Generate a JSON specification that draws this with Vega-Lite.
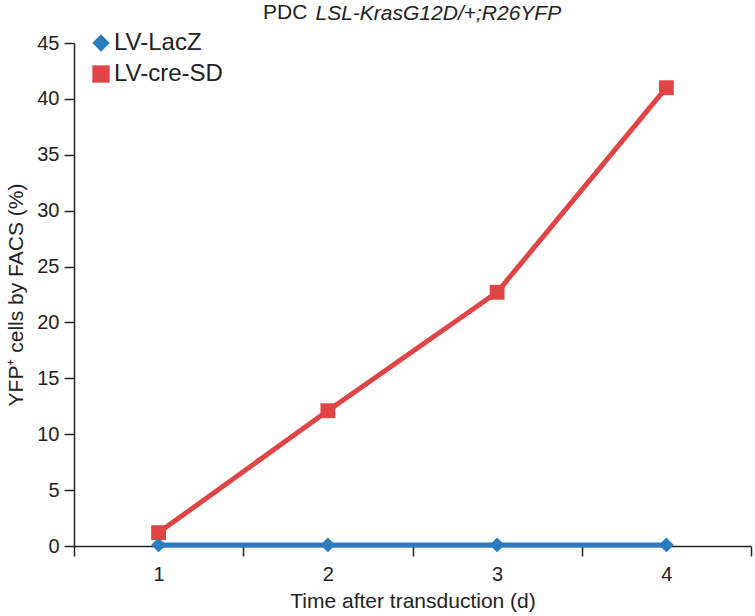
{
  "$schema": "https://vega.github.io/schema/vega-lite/v6.json",
  "width": 677,
  "height": 503,
  "autosize": {"type": "none"},
  "padding": {"left": 74, "top": 43, "right": 4, "bottom": 70},
  "background": "white",
  "title": {
    "text": "PDC",
    "anchor": "start",
    "frame": "group",
    "dx": 189,
    "offset": -38,
    "baseline": "alphabetic",
    "fontSize": 21,
    "fontWeight": "normal",
    "font": "Liberation Sans",
    "color": "#222222"
  },
  "data": {
    "values": [
      {"day": "1", "series": "LV-LacZ", "pct": 0.1},
      {"day": "2", "series": "LV-LacZ", "pct": 0.1},
      {"day": "3", "series": "LV-LacZ", "pct": 0.1},
      {"day": "4", "series": "LV-LacZ", "pct": 0.1},
      {"day": "1", "series": "LV-cre-SD", "pct": 1.2},
      {"day": "2", "series": "LV-cre-SD", "pct": 12.1},
      {"day": "3", "series": "LV-cre-SD", "pct": 22.7},
      {"day": "4", "series": "LV-cre-SD", "pct": 41.0}
    ]
  },
  "layer": [
    {
      "mark": {"type": "line", "strokeWidth": 5},
      "encoding": {
        "x": {
          "field": "day", "type": "ordinal", "bandPosition": 0.5,
          "scale": {"type": "band", "paddingInner": 0, "paddingOuter": 0, "domain": ["1", "2", "3", "4"]},
          "axis": {
            "orient": "bottom",
            "title": "Time after transduction (d)",
            "tickBand": "extent",
            "tickSize": 10,
            "labelPadding": 8,
            "titlePadding": 6,
            "labelAngle": 0
          }
        },
        "y": {
          "field": "pct", "type": "quantitative",
          "scale": {"domain": [0, 45], "nice": false, "zero": true},
          "axis": {
            "title": "YFP⁺ cells by FACS (%)",
            "values": [0, 5, 10, 15, 20, 25, 30, 35, 40, 45],
            "tickSize": 10,
            "labelPadding": 5,
            "titlePadding": 10,
            "grid": false
          }
        },
        "color": {
          "field": "series", "type": "nominal",
          "scale": {"domain": ["LV-LacZ", "LV-cre-SD"], "range": ["#2B7BC3", "#E04444"]},
          "legend": {"symbolSize": 300}
        }
      }
    },
    {
      "mark": {"type": "point", "filled": true, "size": 220, "opacity": 1},
      "encoding": {
        "x": {"field": "day", "type": "ordinal", "bandPosition": 0.5, "axis": null},
        "y": {"field": "pct", "type": "quantitative"},
        "color": {"field": "series", "type": "nominal", "legend": {"symbolSize": 300}},
        "shape": {
          "field": "series", "type": "nominal",
          "scale": {"domain": ["LV-LacZ", "LV-cre-SD"], "range": ["diamond", "square"]},
          "legend": {"symbolSize": 300}
        }
      }
    },
    {
      "mark": {"type": "point", "opacity": 0},
      "encoding": {
        "x": {
          "field": "day", "type": "ordinal", "bandPosition": 0.5,
          "axis": {
            "orient": "top",
            "title": "LSL-KrasG12D/+;R26YFP",
            "titleFontStyle": "italic",
            "titleFontSize": 21,
            "titleAlign": "left",
            "titleAnchor": "start",
            "titleX": 241,
            "titleY": -24,
            "titleBaseline": "alphabetic",
            "domain": false,
            "ticks": false,
            "labels": false
          }
        },
        "y": {"field": "pct", "type": "quantitative"}
      }
    }
  ],
  "resolve": {"axis": {"x": "independent"}},
  "config": {
    "view": {"stroke": null},
    "font": "Liberation Sans",
    "legend": {
      "orient": "none",
      "legendX": 15,
      "legendY": -12,
      "title": null,
      "labelFontSize": 24,
      "labelFont": "Liberation Sans",
      "labelColor": "#222222",
      "symbolStrokeWidth": 0,
      "rowPadding": 7,
      "labelOffset": 1,
      "symbolOffset": 0
    },
    "axis": {
      "domainColor": "#222222",
      "domainWidth": 1.5,
      "tickColor": "#222222",
      "tickWidth": 1.5,
      "labelFont": "Liberation Sans",
      "labelFontSize": 20,
      "labelColor": "#222222",
      "titleFont": "Liberation Sans",
      "titleFontSize": 21,
      "titleFontWeight": "normal",
      "titleColor": "#222222",
      "grid": false
    }
  }
}
